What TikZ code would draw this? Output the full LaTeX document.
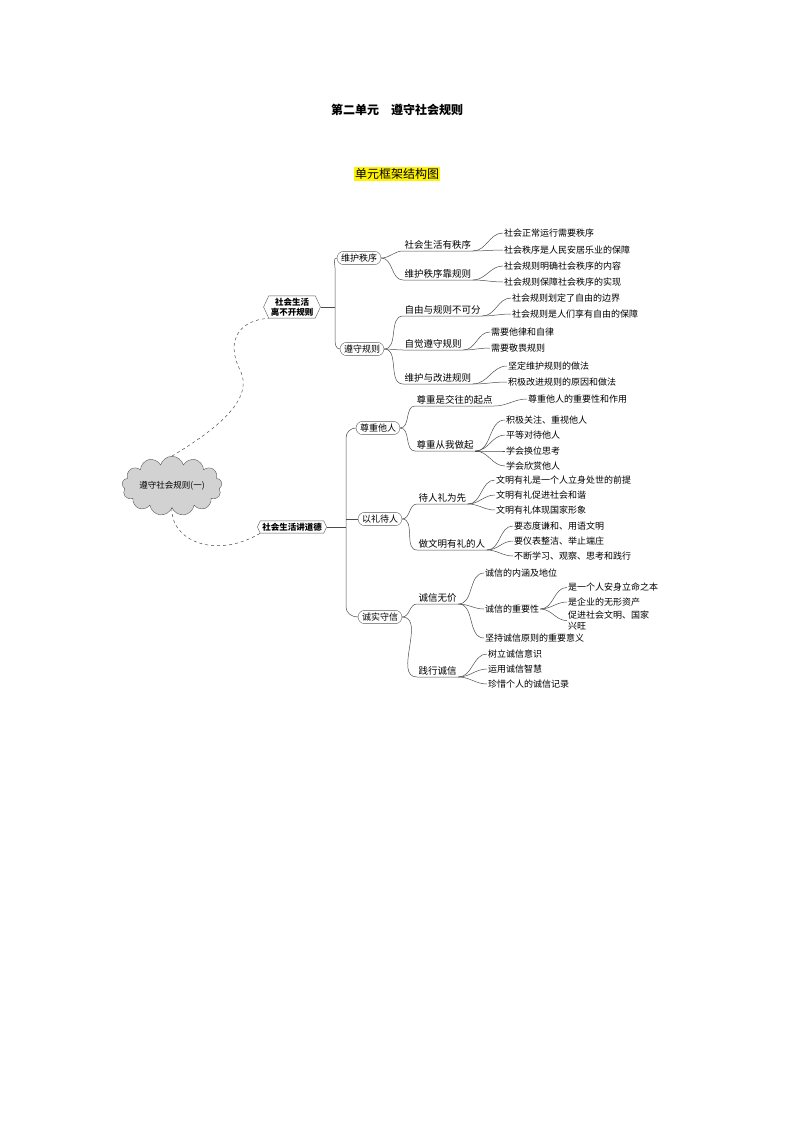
\documentclass[tikz,border=0pt]{standalone}
\usepackage{fontspec}
\setmainfont{Noto Sans CJK SC}
\usetikzlibrary{shapes.symbols,shapes.misc}
\tikzset{
    rootbox/.style = {
        draw=gray!70!black,
        shape=cloud,
        cloud puffs=13,
        aspect=2.2,
        fill=gray!35,
        inner sep=1pt,
        font=\fontsize{8.5}{10}\selectfont
    },
    hexbox/.style = {
        draw=gray!70!black,
        shape=signal,
        signal to=east and west,
        signal pointer angle=130,
        fill=white,
        inner sep=2pt,
        align=center,
        font=\bfseries\fontsize{8.5}{10}\selectfont
    },
    topic/.style = {
        draw=gray!70!black,
        shape=rounded rectangle,
        inner sep=2.5pt,
        font=\fontsize{9}{10}\selectfont
    },
    branch/.style = {
        anchor=south west,
        inner sep=1.5pt,
        font=\fontsize{9.5}{11}\selectfont
    },
    leaf/.style = {
        anchor=west,
        inner sep=1pt,
        align=left,
        font=\fontsize{9}{10.5}\selectfont
    },
    link/.style = {draw=gray!60!black, line width=0.5pt},
    dlink/.style = {draw=gray!60!black, dashed, line width=0.5pt}
}
\begin{document}
\begin{tikzpicture}[x=1pt,y=-1pt]
    \useasboundingbox (0,0) rectangle (794,1123);
    % titles
    \node[font=\bfseries\fontsize{12}{14}\selectfont] (title) at (397,110) {第二单元\quad 遵守社会规则};
    \node[fill=yellow, inner sep=1pt, font=\fontsize{12}{14}\selectfont] (sub) at (397,174) {单元框架结构图};

    % root and main branches
    \node[rootbox] (root) at (172,486) {遵守社会规则(一)};
    \node[hexbox] (h1) at (292,307) {社会生活\\离不开规则};
    \node[hexbox] (h2) at (292,527) {社会生活讲道德};
    \path[dlink] (root.north) .. controls (215,430) and (255,400) .. (240,370)
        .. controls (225,340) and (240,320) .. (h1.south west);
    \path[dlink] (root.south) .. controls (170,540) and (215,560) .. (h2.south west);

    % topics
    \node[topic] (t1) at (359,258) {维护秩序};
    \node[topic] (t2) at (362,349) {遵守规则};
    \node[topic] (t3) at (378,428) {尊重他人};
    \node[topic] (t4) at (380,519) {以礼待人};
    \node[topic] (t5) at (380,617) {诚实守信};
    \path[link] (h1.east) -- (335,307);
    \path[link] (t1.west) to[out=180,in=90] (335,268) -- (335,339) to[out=-90,in=180] (t2.west);
    \path[link] (h2.east) -- (346,527);
    \path[link] (t3.west) to[out=180,in=90] (346,438) -- (346,607) to[out=-90,in=180] (t5.west);
    \path[link] (t4.west) -- (346,519);

    % second level
    \node[branch] (b11) at (403,251) {社会生活有秩序};
    \node[branch] (b12) at (403,280) {维护秩序靠规则};
    \node[branch] (b21) at (403,316) {自由与规则不可分};
    \node[branch] (b22) at (403,350) {自觉遵守规则};
    \node[branch] (b23) at (403,384) {维护与改进规则};
    \node[branch] (b31) at (415,406) {尊重是交往的起点};
    \node[branch] (b32) at (415,451) {尊重从我做起};
    \node[branch] (b41) at (417,504) {待人礼为先};
    \node[branch] (b42) at (417,550) {做文明有礼的人};
    \node[branch] (b51) at (417,604) {诚信无价};
    \node[branch] (b52) at (417,677) {践行诚信};
    \foreach \p/\c in {t1/b11,t1/b12,t2/b21,t2/b22,t2/b23,t3/b31,t3/b32,t4/b41,t4/b42,t5/b51,t5/b52}{
        \path[link] (\p.east) to[out=0,in=180] (\c.south west) -- (\c.south east);
    }

    % leaves
    \node[leaf] (l111) at (503,233) {社会正常运行需要秩序};
    \node[leaf] (l112) at (503,250) {社会秩序是人民安居乐业的保障};
    \node[leaf] (l121) at (503,266) {社会规则明确社会秩序的内容};
    \node[leaf] (l122) at (503,282) {社会规则保障社会秩序的实现};
    \node[leaf] (l211) at (511,298) {社会规则划定了自由的边界};
    \node[leaf] (l212) at (511,314) {社会规则是人们享有自由的保障};
    \node[leaf] (l221) at (490,332) {需要他律和自律};
    \node[leaf] (l222) at (490,348) {需要敬畏规则};
    \node[leaf] (l231) at (507,366) {坚定维护规则的做法};
    \node[leaf] (l232) at (507,382) {积极改进规则的原因和做法};
    \node[leaf] (l311) at (527,399) {尊重他人的重要性和作用};
    \node[leaf] (l321) at (505,420) {积极关注、重视他人};
    \node[leaf] (l322) at (505,435) {平等对待他人};
    \node[leaf] (l323) at (505,451) {学会换位思考};
    \node[leaf] (l324) at (505,466) {学会欣赏他人};
    \node[leaf] (l411) at (495,480) {文明有礼是一个人立身处世的前提};
    \node[leaf] (l412) at (495,495) {文明有礼促进社会和谐};
    \node[leaf] (l413) at (495,510) {文明有礼体现国家形象};
    \node[leaf] (l421) at (513,526) {要态度谦和、用语文明};
    \node[leaf] (l422) at (513,541) {要仪表整洁、举止端庄};
    \node[leaf] (l423) at (513,556) {不断学习、观察、思考和践行};
    \node[leaf] (l511) at (484,573) {诚信的内涵及地位};
    \node[leaf] (l512) at (484,609) {诚信的重要性};
    \node[leaf] (l513) at (484,638) {坚持诚信原则的重要意义};
    \node[leaf] (l521) at (487,654) {树立诚信意识};
    \node[leaf] (l522) at (487,669) {运用诚信智慧};
    \node[leaf] (l523) at (487,684) {珍惜个人的诚信记录};
    \node[leaf, anchor=north west] (l5121) at (567,582) {是一个人安身立命之本};
    \node[leaf] (l5122) at (567,602) {是企业的无形资产};
    \node[leaf, anchor=north west] (l5123) at (567,610) {促进社会文明、国家\\兴旺};
    \foreach \p/\c in {b11/l111,b11/l112,b12/l121,b12/l122,b21/l211,b21/l212,b22/l221,b22/l222,
        b23/l231,b23/l232,b31/l311,b32/l321,b32/l322,b32/l323,b32/l324,b41/l411,b41/l412,b41/l413,
        b42/l421,b42/l422,b42/l423,b51/l511,b51/l512,b51/l513,b52/l521,b52/l522,b52/l523}{
        \path[link] (\p.south east) to[out=0,in=180] (\c.west);
    }
    \path[link] (l512.east) to[out=0,in=180] (l5121.west);
    \path[link] (l512.east) to[out=0,in=180] (l5122.west);
    \path[link] (l512.east) to[out=0,in=180] (l5123.west);
\end{tikzpicture}
\end{document}
